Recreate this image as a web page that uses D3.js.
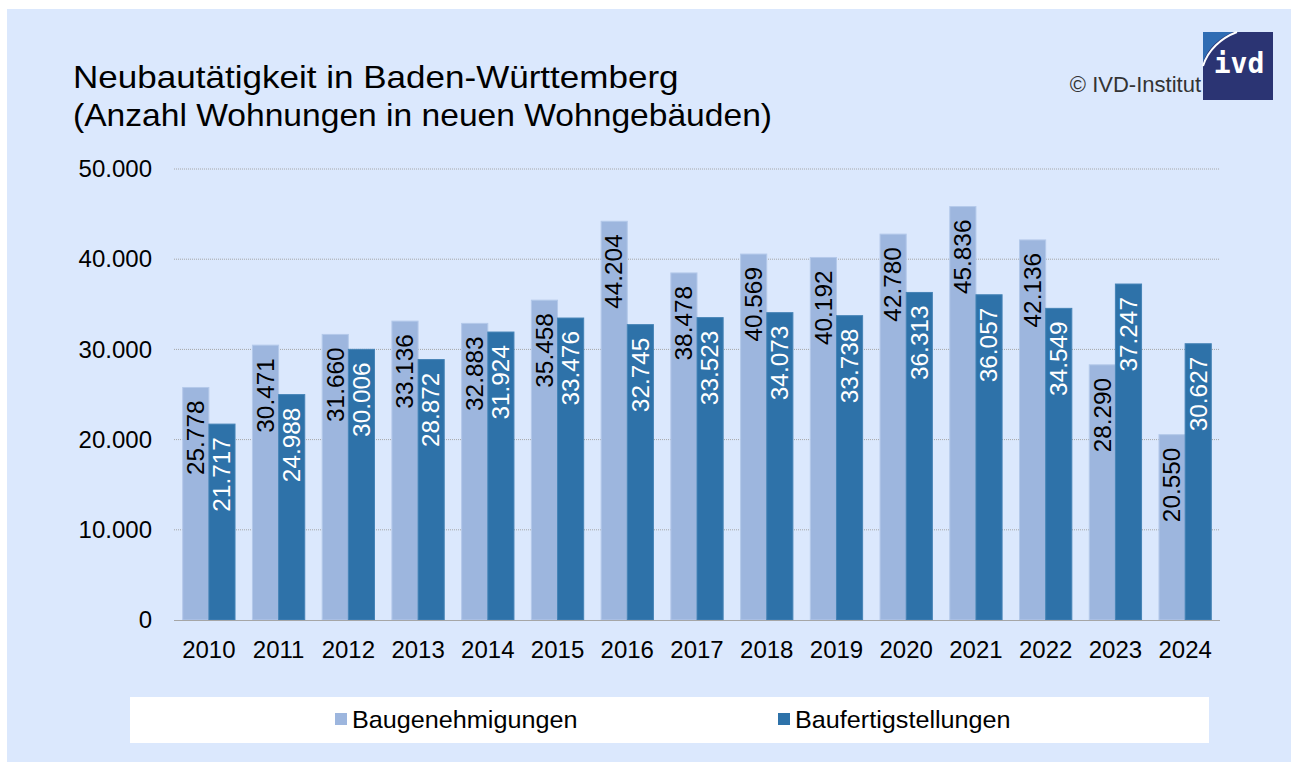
<!DOCTYPE html>
<html>
<head>
<meta charset="utf-8">
<script src="https://cdn.jsdelivr.net/npm/d3@7"></script>
<style>
  body { margin: 0; background: #ffffff; }
  svg { display: block; font-family: "Liberation Sans", Arial, sans-serif; }
</style>
</head>
<body>
<div id="chart"></div>
<script>
// data
var years = ["2010", "2011", "2012", "2013", "2014", "2015", "2016", "2017", "2018", "2019", "2020", "2021", "2022", "2023", "2024"];
var baugenehmigungen = [25778, 30471, 31660, 33136, 32883, 35458, 44204, 38478, 40569, 40192, 42780, 45836, 42136, 28290, 20550];
var baufertigstellungen = [21717, 24988, 30006, 28872, 31924, 33476, 32745, 33523, 34073, 33738, 36313, 36057, 34549, 37247, 30627];
var seriesNames = ["Baugenehmigungen", "Baufertigstellungen"];
var yTicks = [0, 10000, 20000, 30000, 40000, 50000];

var colors = ["#9db6de", "#2e72a9"];
var W = 1291, H = 762;

var svg = d3.select("#chart").append("svg")
    .attr("width", W)
    .attr("height", H);

// background
svg.append("rect")
    .attr("x", 7).attr("y", 9)
    .attr("width", W - 7).attr("height", H - 9)
    .attr("fill", "#dbe8fd");

var plot = { left: 174, right: 1220, top: 169, bottom: 620 };

var x0 = d3.scaleBand()
    .domain(years)
    .range([plot.left, plot.right])
    .paddingInner(0.25)
    .paddingOuter(0.125);

var x1 = d3.scaleBand()
    .domain([0, 1])
    .range([0, x0.bandwidth()]);

var y = d3.scaleLinear()
    .domain([0, 50000])
    .range([plot.bottom, plot.top]);

var fmt = d3.formatLocale({ decimal: ",", thousands: ".", grouping: [3], currency: ["", "€"] }).format(",d");

// gridlines
svg.append("g")
    .selectAll("line")
    .data(yTicks.slice(1))
    .enter()
    .append("line")
    .attr("x1", plot.left)
    .attr("x2", plot.right)
    .attr("y1", function (d) { return y(d); })
    .attr("y2", function (d) { return y(d); })
    .attr("stroke", "#a6a6a6")
    .attr("stroke-width", 1)
    .attr("stroke-dasharray", "1,1");

// y axis labels
var yAxis = svg.append("g")
    .attr("transform", "translate(" + plot.left + ",0)")
    .call(d3.axisLeft(y).tickValues(yTicks).tickFormat(fmt).tickSize(0).tickPadding(22));
yAxis.select(".domain").remove();
yAxis.selectAll("text")
    .attr("font-size", 24)
    .attr("font-family", "Liberation Sans, Arial, sans-serif")
    .attr("fill", "#000");

// bars
var rows = years.map(function (yr, i) {
    return { year: yr, values: [baugenehmigungen[i], baufertigstellungen[i]] };
});

var groups = svg.append("g")
    .selectAll("g")
    .data(rows)
    .enter()
    .append("g")
    .attr("transform", function (d) { return "translate(" + x0(d.year) + ",0)"; });

groups.selectAll("rect")
    .data(function (d) { return d.values.map(function (v, k) { return { k: k, v: v }; }); })
    .enter()
    .append("rect")
    .attr("x", function (d) { return x1(d.k); })
    .attr("y", function (d) { return y(d.v); })
    .attr("width", x1.bandwidth())
    .attr("height", function (d) { return y(0) - y(d.v); })
    .attr("fill", function (d) { return colors[d.k]; })
    .attr("stroke", function (d) { return d.k === 0 ? "#b4c9ea" : "#4583b6"; })
    .attr("stroke-width", 1);

// value labels, rotated, inside the bar top
groups.selectAll("text")
    .data(function (d) { return d.values.map(function (v, k) { return { k: k, v: v }; }); })
    .enter()
    .append("text")
    .attr("transform", function (d) {
        return "translate(" + (x1(d.k) + x1.bandwidth() / 2) + "," + (y(d.v) + 13) + ") rotate(-90) scale(1.06,1)";
    })
    .attr("text-anchor", "end")
    .attr("dy", "0.36em")
    .attr("font-size", 23)
    .attr("fill", function (d) { return d.k === 0 ? "#000" : "#fff"; })
    .text(function (d) { return fmt(d.v); });

// x axis
var xAxis = svg.append("g")
    .attr("transform", "translate(0," + plot.bottom + ")")
    .call(d3.axisBottom(x0).tickSize(0).tickPadding(21));
xAxis.select(".domain")
    .attr("stroke", "#a6a6a6")
    .attr("d", "M" + plot.left + ",0.5H" + plot.right);
xAxis.selectAll("text")
    .attr("font-size", 24)
    .attr("font-family", "Liberation Sans, Arial, sans-serif")
    .attr("fill", "#000");

// title
svg.append("text")
    .attr("transform", "translate(73,88) scale(1.095,1)")
    .attr("font-size", 32)
    .attr("fill", "#000")
    .text("Neubautätigkeit in Baden-Württemberg");
svg.append("text")
    .attr("transform", "translate(73,126) scale(1.05,1)")
    .attr("font-size", 32)
    .attr("fill", "#000")
    .text("(Anzahl Wohnungen in neuen Wohngebäuden)");

// copyright + logo
svg.append("text")
    .attr("x", 1201)
    .attr("y", 92)
    .attr("text-anchor", "end")
    .attr("font-size", 22)
    .attr("fill", "#333")
    .text("© IVD-Institut");

var logo = svg.append("g").attr("transform", "translate(1203,32)");
logo.append("rect").attr("width", 70).attr("height", 68).attr("fill", "#2b3473");
logo.append("path")
    .attr("d", "M0,0 H30 C16,6 5,16 0,30 Z")
    .attr("fill", "#2f6cb3");
logo.append("path")
    .attr("d", "M34,0 C18,6 5,18 0,34")
    .attr("fill", "none")
    .attr("stroke", "#ffffff")
    .attr("stroke-width", 2);
logo.append("text")
    .attr("x", 36)
    .attr("y", 41)
    .attr("text-anchor", "middle")
    .attr("font-size", 28)
    .attr("font-weight", "bold")
    .attr("font-family", "DejaVu Sans Mono, monospace")
    .attr("fill", "#ffffff")
    .text("ivd");

// legend
svg.append("rect")
    .attr("x", 130).attr("y", 697)
    .attr("width", 1079).attr("height", 46)
    .attr("fill", "#ffffff");

var legendX = [335, 778];
var legend = svg.append("g")
    .selectAll("g")
    .data(seriesNames)
    .enter()
    .append("g")
    .attr("transform", function (d, i) { return "translate(" + legendX[i] + ",713)"; });
legend.append("rect")
    .attr("width", 12).attr("height", 12)
    .attr("fill", function (d, i) { return colors[i]; });
legend.append("text")
    .attr("transform", "translate(17,15) scale(1.05,1)")
    .attr("font-size", 24)
    .attr("fill", "#000")
    .text(function (d) { return d; });
</script>
</body>
</html>
